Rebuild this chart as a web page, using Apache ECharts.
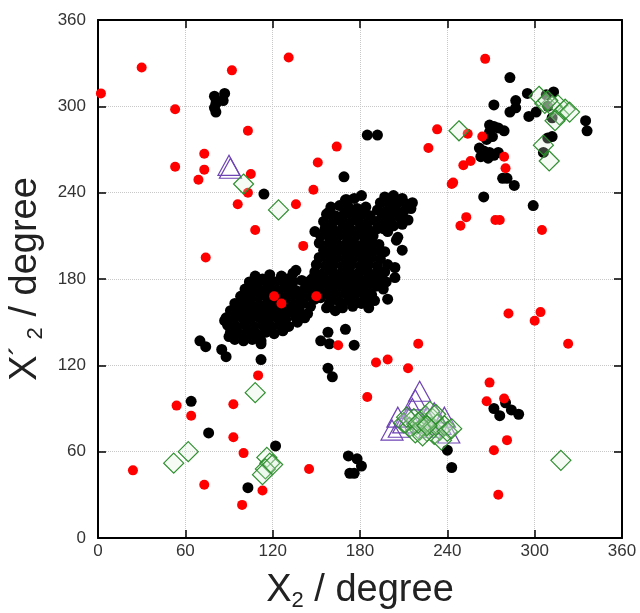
<!DOCTYPE html>
<html><head><meta charset="utf-8">
<script src="https://cdn.jsdelivr.net/npm/echarts@6/dist/echarts.min.js"></script>
<style>html,body{margin:0;padding:0;background:#fff}#c{width:640px;height:613px}</style>
</head><body><div id="c"></div>
<script>
const xTicks = [0, 60, 120, 180, 240, 300, 360];
const yTicks = [0, 60, 120, 180, 240, 300, 360];
const xTitle = 'X';
const yTitle = 'X';

// black points: scattered + dense clusters
const blackPts = [
 [80,307],[81,302],[80,299],[81,296],[87,309],[86,304],[114,239],[169,251],[185,280],[192,280],
 [283,320],[295,309],[272,301],[287,304],[287,299],[283,296],[296,293],[301,296],[308,308],[313,310],
 [309,300],[312,292],[335,290],[336,283],[309,278],[312,279],[306,268],
 [269,287],[272,286],[275,285],[279,283],[269,282],[271,279],[267,277],[262,271],[265,269],[269,268],
 [263,265],[272,266],[275,268],[268,264],[278,250],[281,250],[286,245],[265,237],[299,231],
 [240,61],[243,49],[172,57],[173,45],[176,45],[178,55],[181,50],[103,35],[122,64],[64,95],[76,73],
 [272,90],[276,85],[280,94],[284,89],[289,86],[158,118],[161,112],
 [153,137],[158,143],[159,135],[170,145],[176,134],[70,137],[74,133],[85,131],[88,126],[112,135],[112,124],[199,166],
 // cluster 1
 [108,182],[118,183],[126,182],[134,184],[136,186],[113,180],[130,180],
 [104,178],[110,178],[116,177],[122,178],[128,177],[134,178],[140,179],
 [101,173],[106,173],[112,172],[118,173],[124,172],[130,173],[136,172],[142,173],[147,171],
 [98,168],[104,167],[110,168],[116,167],[121,168],[127,167],[133,168],[139,167],[145,168],[149,166],
 [94,163],[100,162],[105,163],[111,162],[117,163],[123,162],[129,163],[135,162],[141,163],[146,161],
 [91,158],[97,157],[103,158],[108,157],[114,158],[120,157],[126,158],[132,157],[138,158],[144,156],
 [88,153],[93,152],[99,153],[105,152],[111,153],[117,152],[123,153],[129,152],[136,153],[142,153],
 [89,148],[95,147],[101,148],[107,147],[113,148],[119,147],[125,148],[131,147],[137,150],
 [91,143],[97,142],[103,143],[109,142],[115,143],[121,142],[90,140],[127,144],
 [94,138],[100,137],[106,138],[112,137],[87,151],
 // bridge between clusters
 [146,174],[150,177],[147,180],[152,171],[149,183],[144,178],
 // cluster 2
 [170,235],[176,236],[181,238],[171,235],
 [160,230],[166,231],[172,230],[178,229],[184,230],[158,226],
 [157,225],[163,224],[169,225],[175,224],[181,225],[187,224],
 [155,220],[161,219],[167,220],[173,219],[179,220],[185,219],[191,220],
 [149,213],[156,215],[162,214],[168,215],[174,214],[180,215],[186,214],[192,215],
 [153,210],[159,209],[165,210],[171,209],[177,210],[183,209],[189,210],
 [152,205],[158,204],[164,205],[170,204],[176,205],[182,204],[188,205],[193,204],
 [155,200],[161,199],[167,200],[173,199],[179,200],[185,199],[191,200],[197,199],
 [152,195],[158,194],[164,195],[170,194],[176,195],[182,194],[188,195],[194,194],
 [150,190],[156,189],[162,190],[168,189],[174,190],[180,189],[186,190],[192,189],[199,190],
 [149,185],[155,184],[161,185],[167,184],[173,185],[179,184],[185,185],[191,184],[197,185],
 [152,180],[158,179],[164,180],[170,179],[176,180],[182,179],[188,180],[194,180],[198,178],
 [155,175],[161,174],[167,175],[173,174],[179,175],[185,174],[191,175],[196,173],
 [158,170],[164,169],[170,170],[176,169],[182,170],[188,169],[153,167],
 [160,165],[166,164],[172,165],[178,164],[184,165],[159,163],[190,165],
 [168,160],[175,161],[181,163],[157,160],[163,158],[186,160],
 [197,237],[203,238],[209,236],
 [194,233],[200,232],[206,233],[212,232],[216,233],
 [192,228],[198,227],[204,228],[210,227],[215,229],
 [195,223],[201,222],[207,223],[213,221],
 [197,218],[203,217],[209,218],[196,215],
 [199,213],[206,209],[205,207],[209,200],[204,188],[204,181]
];

const redPts = [
 [2,309],[30,327],[92,325],[131,334],[266,333],[53,298],[103,283],[53,258],[73,267],[73,256],
 [69,249],[105,253],[103,240],[96,232],[108,214],[74,195],[136,232],[148,242],[151,261],[164,272],
 [141,203],[121,168],[126,163],[150,168],[165,134],[191,122],[199,124],[213,118],[220,135],[185,98],
 [110,113],[54,92],[64,85],[93,93],[93,70],[100,59],[24,47],[73,37],[113,33],[99,23],[145,48],
 [233,284],[227,271],[254,281],[264,279],[251,259],[256,262],[243,246],[244,247],[253,223],[249,217],
 [279,265],[280,257],[273,221],[276,221],[305,214],[282,156],[304,157],[300,151],[323,135],
 [269,108],[267,95],[279,97],[281,68],[272,61],[275,30]
];

const purplePts = [
 [90,259],[91,257],
 [221,102],[218,96],[206,84],[207,77],[216,90],[231,87],[238,84],[241,73],[202,75],[223,80],[214,84],[228,77],[210,80],[226,84],[235,79]
];

const greenPts = [
 [100,246],[124,228],[248,283],[306,273],[310,262],
 [303,307],[307,302],[312,300],[316,301],[317,294],[321,298],[324,296],[314,290],[309,304],
 [108,101],[52,52],[62,60],[116,56],[118,52],[115,48],[113,44],[120,51],[318,54],
 [210,80],[214,77],[217,83],[219,79],[221,75],[222,82],[224,78],[225,85],[226,74],[227,80],
 [229,77],[230,83],[231,72],[233,79],[235,75],[236,68],[238,78],[240,74],[243,76],[218,73],
 [228,88],[223,71],[212,84],[232,86],[220,80],[226,78]
];

const chart = echarts.init(document.getElementById('c'), null, {renderer: 'canvas'});
const font = 'Liberation Sans, Arial, sans-serif';
const baseAxis = {
  min: 0, max: 360, interval: 60,
  axisLine: {show: true, onZero: false, lineStyle: {color: '#000', width: 2}},
  axisTick: {show: true, inside: true, length: 8, lineStyle: {color: '#000', width: 1.5}},
  splitLine: {show: false}
};
const titleRich = {
  b: {fontSize: 38, fontFamily: font, color: '#222', lineHeight: 40, verticalAlign: 'top'},
  p: {fontSize: 30, fontFamily: font, color: '#222', lineHeight: 40, verticalAlign: 'top'},
  s: {fontSize: 22, fontFamily: font, color: '#222', lineHeight: 22, verticalAlign: 'bottom'}
};
const option = {
  animation: false,
  backgroundColor: '#fff',
  grid: {left: 98, right: 18, top: 20, bottom: 75, containLabel: false, outerBoundsMode: 'none'},
  xAxis: [
    Object.assign({}, baseAxis, {
      type: 'value', position: 'bottom',
      axisLabel: {color: '#333', fontSize: 17, fontFamily: font, margin: 5, formatter: v => xTicks.includes(v) ? String(v) : ''},
      splitLine: {show: true, lineStyle: {color: '#c8c8c8', type: 'dotted', width: 1}},
      name: '{b|' + xTitle + '}{s|2}{b| / degree}', nameLocation: 'middle', nameGap: 34,
      nameTextStyle: {color: '#222', fontFamily: font, rich: titleRich}
    }),
    Object.assign({}, baseAxis, {type: 'value', position: 'top', axisLabel: {show: false}})
  ],
  yAxis: [
    Object.assign({}, baseAxis, {
      type: 'value', position: 'left',
      axisLabel: {color: '#333', fontSize: 17, fontFamily: font, margin: 12, formatter: v => yTicks.includes(v) ? String(v) : ''},
      splitLine: {show: true, lineStyle: {color: '#c8c8c8', type: 'dotted', width: 1}},
      name: '{b|' + yTitle + '}{p|\u00B4}{s| 2}{b| / degree}', nameLocation: 'middle', nameGap: 42, nameRotate: 90,
      nameTextStyle: {color: '#222', fontFamily: font, rich: titleRich}
    }),
    Object.assign({}, baseAxis, {type: 'value', position: 'right', axisLabel: {show: false}})
  ],
  series: [
    {type: 'scatter', data: blackPts, symbol: 'circle', symbolSize: 11, itemStyle: {color: '#000', opacity: 1}, z: 2},
    {type: 'scatter', data: redPts, symbol: 'circle', symbolSize: 10, itemStyle: {color: '#f00', opacity: 1}, z: 3},
    {type: 'scatter', data: purplePts, symbol: 'triangle', symbolSize: [22, 20],
     itemStyle: {color: 'rgba(255,255,255,0)', borderColor: '#6f44b5', borderWidth: 1.2, opacity: 1}, z: 4},
    {type: 'scatter', data: greenPts, symbol: 'diamond', symbolSize: [20, 20],
     itemStyle: {color: 'rgba(220,240,220,0.25)', borderColor: '#2f8f2f', borderWidth: 1.2, opacity: 1}, z: 5}
  ]
};
chart.setOption(option);
</script>
</body></html>
